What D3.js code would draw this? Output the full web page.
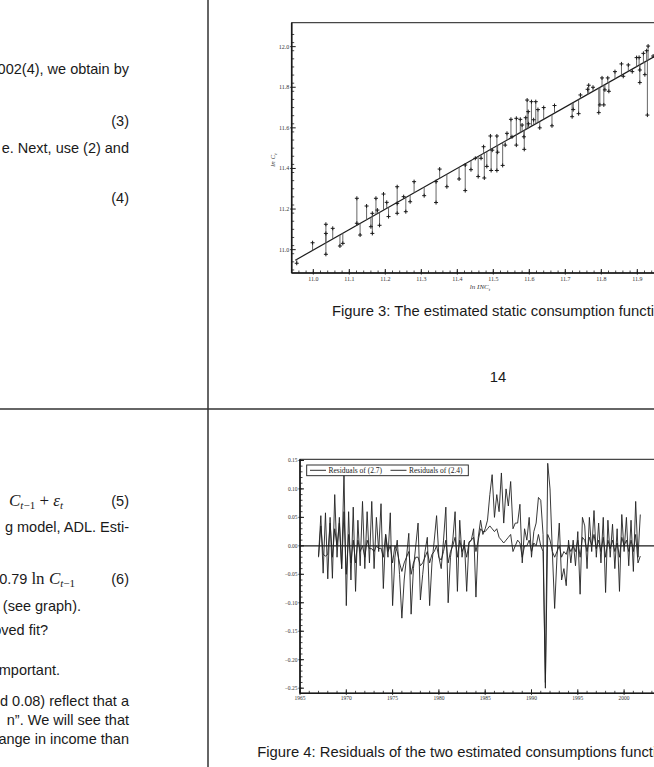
<!DOCTYPE html>
<html>
<head>
<meta charset="utf-8">
<script src="https://cdn.jsdelivr.net/npm/d3@7"></script>
<style>
  body { margin: 0; background: #fff; overflow: hidden; }
  svg { display: block; }
</style>
</head>
<body>
<svg width="654" height="767"></svg>
<script>
// ---- figure 3: static consumption function (ln INC vs ln C)
const incomes = [10.954, 10.998, 11.035, 11.035, 11.035, 11.054, 11.074, 11.082, 11.121, 11.121,
  11.130, 11.148, 11.160, 11.164, 11.164, 11.174, 11.178, 11.184, 11.195, 11.204,
  11.209, 11.233, 11.233, 11.233, 11.251, 11.257, 11.269, 11.280, 11.308, 11.341,
  11.341, 11.351, 11.371, 11.405, 11.422, 11.422, 11.438, 11.450, 11.458, 11.466,
  11.473, 11.475, 11.482, 11.492, 11.494, 11.497, 11.510, 11.510, 11.512, 11.526,
  11.533, 11.538, 11.549, 11.552, 11.564, 11.564, 11.575, 11.580, 11.585, 11.586,
  11.590, 11.594, 11.597, 11.598, 11.606, 11.612, 11.618, 11.624, 11.629, 11.640,
  11.663, 11.670, 11.719, 11.722, 11.737, 11.742, 11.762, 11.765, 11.777, 11.793,
  11.796, 11.802, 11.807, 11.810, 11.818, 11.821, 11.838, 11.856, 11.861, 11.875,
  11.886, 11.898, 11.905, 11.907, 11.907, 11.917, 11.921, 11.926, 11.928, 11.930, 11.944]
const consumption = [10.933, 11.034, 11.125, 11.080, 10.977, 11.105, 11.018, 11.031, 11.253, 11.130,
  11.072, 11.215, 11.113, 11.179, 11.080, 11.253, 11.195, 11.120, 11.274, 11.233,
  11.163, 11.310, 11.228, 11.179, 11.261, 11.187, 11.236, 11.335, 11.266, 11.335,
  11.232, 11.397, 11.310, 11.348, 11.417, 11.291, 11.394, 11.450, 11.360, 11.450,
  11.507, 11.353, 11.410, 11.560, 11.390, 11.490, 11.560, 11.390, 11.480, 11.415,
  11.515, 11.573, 11.642, 11.556, 11.647, 11.515, 11.642, 11.614, 11.556, 11.494,
  11.650, 11.737, 11.680, 11.620, 11.729, 11.640, 11.729, 11.690, 11.600, 11.700,
  11.610, 11.710, 11.655, 11.690, 11.670, 11.762, 11.790, 11.810, 11.800, 11.675,
  11.713, 11.846, 11.713, 11.787, 11.846, 11.780, 11.877, 11.915, 11.854, 11.910,
  11.877, 11.946, 11.947, 11.885, 11.823, 11.967, 11.862, 11.980, 11.663, 12.003, 11.954]
const fitIntercept = -0.0677
const fitSlope = 1.006
// 12.0 on the x axis lies past the page edge in the original, so it is left out
const fig3XTicks = ["11.0", "11.1", "11.2", "11.3", "11.4", "11.5", "11.6", "11.7", "11.8", "11.9"]
const fig3YTicks = ["11.0", "11.2", "11.4", "11.6", "11.8", "12.0"]

// ---- figure 4: residuals, quarterly 1967(1) - 2001(4)
const startYear = 1967
const resid27 = [
  -0.018, 0.053, -0.048, 0.058,  -0.058, 0.050, -0.057, 0.090,  -0.020, 0.050, -0.040, 0.130,
  -0.105, 0.060, -0.060, 0.068,  -0.080, 0.045, -0.035, 0.078,  -0.040, 0.060, -0.030, 0.078,
  -0.040, 0.050, -0.010, 0.074,  -0.075, 0.020, -0.020, 0.058,  -0.105, -0.020, 0.010, -0.050,
  -0.127, -0.060, -0.020, 0.022,  -0.120, -0.040, 0.000, 0.040,  -0.095, -0.050, -0.010, 0.015,
  -0.105, -0.030, 0.010, 0.053,  -0.020, -0.040, 0.010, 0.068,  -0.100, -0.020, 0.010, 0.060,
  -0.080, 0.045, -0.020, 0.010,  -0.080, 0.007, 0.010, 0.030,  -0.090, 0.015, 0.045, 0.020,
  0.030, 0.045, 0.090, 0.125,  0.050, 0.090, 0.060, 0.128,  0.040, 0.100, 0.070, 0.113,
  0.030, 0.040, 0.040, 0.073,  -0.030, 0.030, 0.010, 0.050,  -0.020, 0.025, 0.040, 0.085,
  0.080, 0.020, -0.250, 0.145,  0.100, -0.010, -0.110, -0.020,  0.040, -0.060, -0.040, -0.070,
  0.010, -0.030, 0.010, -0.035,  0.025, -0.085, 0.050, 0.035,  -0.040, 0.050, -0.010, 0.062,
  -0.020, 0.040, -0.030, 0.050,  -0.082, 0.045, -0.020, 0.038,  -0.040, 0.030, -0.080, 0.055,
  -0.010, 0.050, -0.035, 0.045,  -0.045, 0.078, -0.020, 0.055]
const resid24 = [
  -0.020, 0.035, -0.015, -0.018,  -0.015, 0.040, -0.020, 0.030,  0.000, 0.040, -0.040, 0.060,
  -0.050, 0.020, -0.030, 0.010,  -0.030, 0.010, -0.010, 0.000,  -0.020, 0.010, -0.005, -0.005,
  -0.010, 0.000, -0.005, -0.004,  -0.020, 0.020, -0.010, 0.000,  -0.030, 0.000, -0.010, -0.030,
  -0.045, -0.030, -0.020, -0.010,  -0.050, -0.030, -0.020, -0.020,  -0.035, -0.030, -0.020, -0.010,
  -0.030, -0.015, -0.010, 0.000,  -0.020, -0.025, -0.010, 0.010,  -0.030, -0.010, 0.000, 0.015,
  -0.020, 0.010, -0.010, 0.000,  -0.020, 0.005, 0.010, 0.015,  -0.010, 0.010, 0.030, 0.025,
  0.025, 0.030, 0.035, 0.030,  0.025, 0.030, 0.015, 0.010,  0.005, 0.010, 0.015, 0.020,
  -0.010, 0.000, 0.010, 0.005,  -0.020, 0.000, 0.000, 0.010,  -0.010, 0.005, 0.000, 0.020,
  0.000, -0.010, -0.240, 0.020,  0.010, -0.010, -0.020, -0.010,  0.000, -0.020, -0.010, -0.015,
  0.000, -0.010, 0.000, -0.010,  0.010, -0.020, 0.015, 0.010,  -0.010, 0.015, 0.000, 0.020,
  -0.005, 0.010, -0.010, 0.015,  -0.020, 0.010, -0.005, 0.010,  -0.010, 0.005, -0.020, 0.015,
  0.000, 0.010, -0.010, 0.010,  -0.010, 0.020, -0.030, -0.018]
const fig4YTicks = ["0.15", "0.10", "0.05", "0.00", "−0.05", "−0.10", "−0.15", "−0.20", "−0.25"]
const fig4XTicks = ["1965", "1970", "1975", "1980", "1985", "1990", "1995", "2000"]
const legendLabels = ["Residuals of (2.7)", "Residuals of (2.4)"]

const svg = d3.select("svg")
const ink = "#1a1a1a"
const sans = "'Liberation Sans', Arial, sans-serif"
const serif = "'Liberation Serif', 'Times New Roman', serif"

// page dividers (slide grid)
svg.append("line").attr("x1", 208).attr("x2", 208).attr("y1", 0).attr("y2", 767)
  .attr("stroke", "#333").attr("stroke-width", 1.5)
svg.append("line").attr("x1", 0).attr("x2", 654).attr("y1", 409).attr("y2", 409)
  .attr("stroke", "#333").attr("stroke-width", 1.5)

// ---- left column text (cut off at the left page edge)
function txt(x, y, s, anchor, size) {
  return svg.append("text").attr("x", x).attr("y", y)
    .attr("text-anchor", anchor || "end")
    .attr("font-family", sans).attr("font-size", size || 14.5).attr("fill", ink)
    .text(s)
}
txt(129, 74, "002(4), we obtain by")
txt(129, 126, "(3)")
txt(129, 153, "e. Next, use (2) and")
txt(129, 203, "(4)")

// eq (5)
let eq5 = svg.append("text").attr("x", 63).attr("y", 506).attr("text-anchor", "end")
  .attr("font-family", serif).attr("font-size", 17).attr("fill", ink)
eq5.append("tspan").attr("font-style", "italic").text("C")
eq5.append("tspan").attr("font-size", 11).attr("font-style", "italic").attr("dy", 3).text("t")
eq5.append("tspan").attr("font-size", 11).text("−1")
eq5.append("tspan").attr("dy", -3).text(" + ")
eq5.append("tspan").attr("font-style", "italic").text("ε")
eq5.append("tspan").attr("font-size", 11).attr("font-style", "italic").attr("dy", 3).text("t")
txt(129, 506, "(5)")
txt(129, 532, "g model, ADL.  Esti-")

let eq6 = svg.append("text").attr("x", 75).attr("y", 584).attr("text-anchor", "end")
  .attr("font-family", sans).attr("font-size", 14.5).attr("fill", ink)
eq6.append("tspan").text("0.79 ")
eq6.append("tspan").attr("font-family", serif).attr("font-size", 17).text("ln ")
eq6.append("tspan").attr("font-family", serif).attr("font-size", 17).attr("font-style", "italic").text("C")
eq6.append("tspan").attr("font-family", serif).attr("font-size", 11).attr("font-style", "italic").attr("dy", 3).text("t")
eq6.append("tspan").attr("font-family", serif).attr("font-size", 11).text("−1")
txt(129, 584, "(6)")
txt(81, 611, "(see graph).")
txt(48, 635, "oved fit?")
txt(60, 675, "mportant.")
txt(129, 706, "d 0.08) reflect that a")
txt(129, 725, "n\u201D.  We will see that")
txt(129, 744, "ange in income than")

// ---- figure 3
const x3 = d3.scaleLinear().domain([10.94, 12.05]).range([291.7, 691.3])
const y3 = d3.scaleLinear().domain([10.885, 12.118]).range([273, 22.7])
const fig3 = svg.append("g")

// frame
fig3.append("rect").attr("x", x3.range()[0]).attr("y", y3.range()[1])
  .attr("width", x3.range()[1] - x3.range()[0]).attr("height", y3.range()[0] - y3.range()[1])
  .attr("fill", "none").attr("stroke", ink).attr("stroke-width", 1)
fig3.append("line").attr("x1", x3.range()[0]).attr("x2", x3.range()[1])
  .attr("y1", y3.range()[0]).attr("y2", y3.range()[0]).attr("stroke", ink).attr("stroke-width", 1.6)
fig3.append("line").attr("x1", x3.range()[0]).attr("x2", x3.range()[0])
  .attr("y1", y3.range()[0]).attr("y2", y3.range()[1]).attr("stroke", ink).attr("stroke-width", 1.6)

// minor + major ticks pointing inward
d3.range(10.9, 12.1, 0.04).forEach(v => {
  if (v < y3.domain()[0] || v > y3.domain()[1]) return
  fig3.append("line").attr("x1", x3.range()[0]).attr("x2", x3.range()[0] + 2.5)
    .attr("y1", y3(v)).attr("y2", y3(v)).attr("stroke", ink).attr("stroke-width", 0.8)
})
d3.range(10.94, 12.05, 0.02).forEach(v => {
  fig3.append("line").attr("x1", x3(v)).attr("x2", x3(v))
    .attr("y1", y3.range()[0]).attr("y2", y3.range()[0] - 2.5).attr("stroke", ink).attr("stroke-width", 0.8)
})
fig3YTicks.forEach(t => {
  const v = +t
  fig3.append("line").attr("x1", x3.range()[0] - 1.5).attr("x2", x3.range()[0] + 4)
    .attr("y1", y3(v)).attr("y2", y3(v)).attr("stroke", ink).attr("stroke-width", 1)
  fig3.append("text").attr("x", x3.range()[0] - 2.5).attr("y", y3(v) + 2)
    .attr("text-anchor", "end").attr("font-family", serif).attr("font-size", 6).attr("fill", "#333")
    .text(t)
})
fig3XTicks.forEach(t => {
  const v = +t
  fig3.append("line").attr("x1", x3(v)).attr("x2", x3(v))
    .attr("y1", y3.range()[0] + 1.5).attr("y2", y3.range()[0] - 4).attr("stroke", ink).attr("stroke-width", 1)
  fig3.append("text").attr("x", x3(v)).attr("y", y3.range()[0] + 8)
    .attr("text-anchor", "middle").attr("font-family", serif).attr("font-size", 6).attr("fill", "#333")
    .text(t)
})

// axis titles
let yt = fig3.append("text").attr("transform", "translate(275,160) rotate(-90)")
  .attr("text-anchor", "middle").attr("font-family", serif).attr("font-size", 7)
  .attr("font-style", "italic").attr("fill", "#333")
yt.append("tspan").text("ln C")
yt.append("tspan").attr("font-size", 5).attr("dy", 2).text("t")
let xt = fig3.append("text").attr("x", 480).attr("y", 289)
  .attr("text-anchor", "middle").attr("font-family", serif).attr("font-size", 7)
  .attr("font-style", "italic").attr("fill", "#333")
xt.append("tspan").text("ln INC")
xt.append("tspan").attr("font-size", 5).attr("dy", 2).text("t")

// fitted line and residual bars
const fitted = v => fitIntercept + fitSlope * v
fig3.append("line").attr("x1", x3(10.95)).attr("y1", y3(fitted(10.95)))
  .attr("x2", x3(12.03)).attr("y2", y3(fitted(12.03)))
  .attr("stroke", ink).attr("stroke-width", 1.2)

const pts = incomes.map((v, i) => ({ inc: v, c: consumption[i] }))
fig3.selectAll(".resbar").data(pts).enter().append("line")
  .attr("class", "resbar")
  .attr("x1", d => x3(d.inc)).attr("x2", d => x3(d.inc))
  .attr("y1", d => y3(fitted(d.inc))).attr("y2", d => y3(d.c))
  .attr("stroke", "#555").attr("stroke-width", 0.9)
fig3.selectAll(".mark").data(pts).enter().append("path")
  .attr("class", "mark")
  .attr("d", d => {
    const px = x3(d.inc), py = y3(d.c)
    return `M${px - 2},${py}H${px + 2}M${px},${py - 2}V${py + 2}`
  })
  .attr("stroke", ink).attr("stroke-width", 1)

fig3.append("text").attr("x", 332).attr("y", 316)
  .attr("font-family", sans).attr("font-size", 14.8).attr("fill", ink)
  .text("Figure 3: The estimated static consumption function")
fig3.append("text").attr("x", 498).attr("y", 382).attr("text-anchor", "middle")
  .attr("font-family", sans).attr("font-size", 14.8).attr("fill", ink)
  .text("14")

// ---- figure 4
const x4 = d3.scaleLinear().domain([1965, 2005]).range([300, 670.4])
const y4 = d3.scaleLinear().domain([-0.259, 0.152]).range([693.3, 459.3])
const fig4 = svg.append("g")

fig4.append("rect").attr("x", x4.range()[0]).attr("y", y4.range()[1])
  .attr("width", x4.range()[1] - x4.range()[0]).attr("height", y4.range()[0] - y4.range()[1])
  .attr("fill", "none").attr("stroke", ink).attr("stroke-width", 1)
fig4.append("line").attr("x1", x4.range()[0]).attr("x2", x4.range()[1])
  .attr("y1", y4.range()[0]).attr("y2", y4.range()[0]).attr("stroke", ink).attr("stroke-width", 1.6)
fig4.append("line").attr("x1", x4.range()[0]).attr("x2", x4.range()[0])
  .attr("y1", y4.range()[0]).attr("y2", y4.range()[1]).attr("stroke", ink).attr("stroke-width", 1.6)

d3.range(-25, 16, 1).forEach(k => {
  const v = k / 100
  fig4.append("line").attr("x1", x4.range()[0]).attr("x2", x4.range()[0] + 2.5)
    .attr("y1", y4(v)).attr("y2", y4(v)).attr("stroke", ink).attr("stroke-width", 0.8)
})
d3.range(1965, 2005, 1).forEach(v => {
  fig4.append("line").attr("x1", x4(v)).attr("x2", x4(v))
    .attr("y1", y4.range()[0]).attr("y2", y4.range()[0] - 2.5).attr("stroke", ink).attr("stroke-width", 0.8)
})
fig4YTicks.forEach(t => {
  const v = +t.replace("−", "-")
  fig4.append("line").attr("x1", x4.range()[0] - 1.5).attr("x2", x4.range()[0] + 4)
    .attr("y1", y4(v)).attr("y2", y4(v)).attr("stroke", ink).attr("stroke-width", 1)
  fig4.append("text").attr("x", x4.range()[0] - 2.5).attr("y", y4(v) + 2)
    .attr("text-anchor", "end").attr("font-family", serif).attr("font-size", 5.5).attr("fill", "#333")
    .text(t)
})
fig4XTicks.forEach(t => {
  const v = +t
  fig4.append("line").attr("x1", x4(v)).attr("x2", x4(v))
    .attr("y1", y4.range()[0] + 1.5).attr("y2", y4.range()[0] - 4).attr("stroke", ink).attr("stroke-width", 1)
  fig4.append("text").attr("x", x4(v)).attr("y", y4.range()[0] + 7)
    .attr("text-anchor", "middle").attr("font-family", serif).attr("font-size", 5.5).attr("fill", "#333")
    .text(t)
})

// zero line
fig4.append("line").attr("x1", x4.range()[0]).attr("x2", x4.range()[1])
  .attr("y1", y4(0)).attr("y2", y4(0)).attr("stroke", ink).attr("stroke-width", 1.1)

const line4 = d3.line()
  .x((d, i) => x4(startYear + i / 4))
  .y(d => y4(d))
fig4.append("path").datum(resid24).attr("d", line4)
  .attr("fill", "none").attr("stroke", "#222").attr("stroke-width", 0.9)
fig4.append("path").datum(resid27).attr("d", line4)
  .attr("fill", "none").attr("stroke", "#222").attr("stroke-width", 0.9)

// legend
const lg = fig4.append("g")
lg.append("rect").attr("x", 306.7).attr("y", 465).attr("width", 161.6).attr("height", 10.7)
  .attr("fill", "#fff").attr("stroke", ink).attr("stroke-width", 0.9)
legendLabels.forEach((s, i) => {
  const lx = 310 + i * 80.5
  lg.append("line").attr("x1", lx).attr("x2", lx + 16).attr("y1", 470.3).attr("y2", 470.3)
    .attr("stroke", ink).attr("stroke-width", 0.9)
  lg.append("text").attr("x", lx + 18.5).attr("y", 473)
    .attr("font-family", serif).attr("font-size", 7.5).attr("fill", ink)
    .text(s)
})

fig4.append("text").attr("x", 257.3).attr("y", 757)
  .attr("font-family", sans).attr("font-size", 14.8).attr("fill", ink)
  .text("Figure 4: Residuals of the two estimated consumptions functions")
</script>
</body>
</html>
